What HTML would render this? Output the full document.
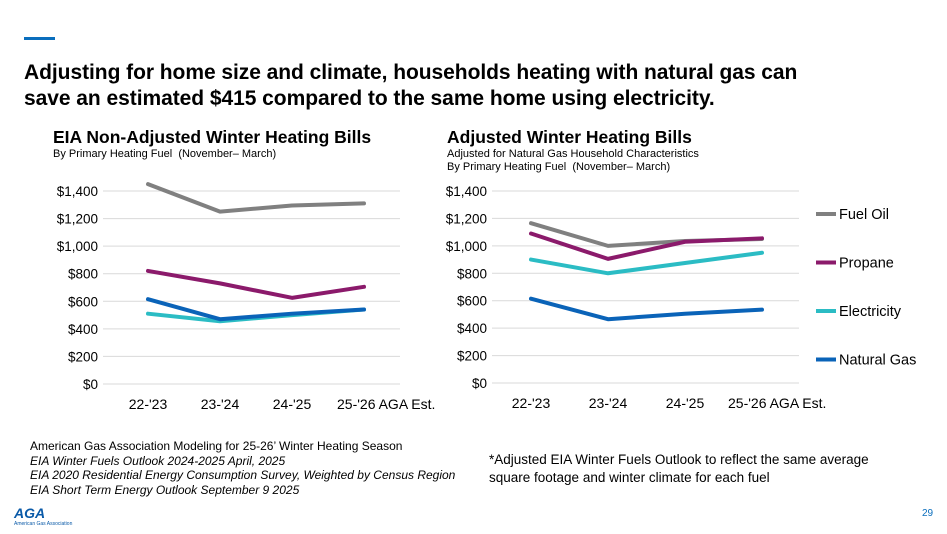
<!DOCTYPE html>
<html><head><meta charset="utf-8"><style>
body{margin:0;width:947px;height:534px;background:#fff;font-family:"Liberation Sans",Arial,sans-serif;position:relative;overflow:hidden}
.a{position:absolute;white-space:nowrap;color:#000}
</style></head><body>
<div class="a" style="left:24px;top:37px;width:31px;height:3px;background:#0a6ebd"></div>
<div class="a" style="left:24px;top:60px;font-size:21px;font-weight:bold;line-height:26px;letter-spacing:-0.05px">Adjusting for home size and climate, households heating with natural gas can<br>save an estimated $415 compared to the same home using electricity.</div>
<div class="a" style="left:53px;top:127px;font-size:17.5px;font-weight:bold">EIA Non-Adjusted Winter Heating Bills</div>
<div class="a" style="left:53px;top:148px;font-size:11px">By Primary Heating Fuel&nbsp; (November– March)</div>
<div class="a" style="left:447px;top:127px;font-size:17.5px;font-weight:bold">Adjusted Winter Heating Bills</div>
<div class="a" style="left:447px;top:148px;font-size:11px;line-height:13px">Adjusted for Natural Gas Household Characteristics<br>By Primary Heating Fuel&nbsp; (November– March)</div>
<svg id="c" width="947" height="534" style="position:absolute;left:0;top:0"></svg>
<div class="a" style="left:30px;top:439px;font-size:12px;line-height:14.5px">American Gas Association Modeling for 25-26’ Winter Heating Season<br><i>EIA Winter Fuels Outlook 2024-2025 April, 2025</i><br><i>EIA 2020 Residential Energy Consumption Survey, Weighted by Census Region</i><br><i>EIA Short Term Energy Outlook September 9 2025</i></div>
<div class="a" style="left:489px;top:451px;font-size:13.5px;line-height:18px">*Adjusted EIA Winter Fuels Outlook to reflect the same average<br>square footage and winter climate for each fuel</div>
<div class="a" style="left:14px;top:505px;font-size:14px;font-weight:bold;font-style:italic;color:#0a5aa8">AGA</div>
<div class="a" style="left:14px;top:521px;font-size:5px;color:#0a5aa8">American Gas Association</div>
<div class="a" style="left:922px;top:508px;font-size:10px;color:#0a6ebd">29</div>
<script>
const categories=["22-'23","23-'24","24-'25","25-'26 AGA Est."];
const seriesNames=["Fuel Oil","Propane","Electricity","Natural Gas"];
const colors=["#808080","#8b1a6b","#2bbcc4","#0a63b8"];
const ticks=[0,200,400,600,800,1000,1200,1400];
const tickLabels=["$0","$200","$400","$600","$800","$1,000","$1,200","$1,400"];
const leftFuelOil=[1450,1250,1295,1310];
const leftPropane=[820,730,625,705];
const leftElectricity=[510,455,500,540];
const leftNaturalGas=[615,470,510,540];
const rightFuelOil=[1165,1000,1035,1050];
const rightPropane=[1090,905,1030,1055];
const rightElectricity=[900,800,875,950];
const rightNaturalGas=[615,465,505,535];
const svg=document.getElementById('c');
const NS="http://www.w3.org/2000/svg";
function mk(t,a){const e=document.createElementNS(NS,t);for(const k in a)e.setAttribute(k,a[k]);svg.appendChild(e);return e;}
function chart(pfx,x0,x1,yTop,yBot,c0,step,lastOff,series){
  const y=v=>yBot-(v/1400)*(yBot-yTop);
  const x=i=>c0+i*step;
  ticks.forEach((t,i)=>{
    const g=mk('line',{x1:x0,x2:x1,y1:y(t),y2:y(t),stroke:'#d9d9d9','stroke-width':1});
    
    
    const l=mk('text',{x:x0-5,y:y(t)+5,'text-anchor':'end','font-size':13.5,'font-family':'Liberation Sans, sans-serif'});
    l.textContent=tickLabels[i];
    
    
  });
  categories.forEach((c,i)=>{
    const last=i===categories.length-1;
    const l=mk('text',{x:last?x(i)+lastOff:x(i),y:yBot+25,'text-anchor':last?'start':'middle','font-size':14,'font-family':'Liberation Sans, sans-serif'});
    l.textContent=c;
    
    
  });
  series.forEach((s,k)=>{
    const p=mk('polyline',{points:s.map((v,i)=>x(i)+','+y(v)).join(' '),fill:'none',stroke:colors[k],'stroke-width':4,'stroke-linejoin':'round','stroke-linecap':'round'});
    
    
  });
}
chart('left',103,400,191,384,148,72,-27,[leftFuelOil,leftPropane,leftElectricity,leftNaturalGas]);
chart('right',492,799,191,383,531,77,-34,[rightFuelOil,rightPropane,rightElectricity,rightNaturalGas]);
seriesNames.forEach((n,k)=>{
  const yy=214+k*48.5;
  const l=mk('line',{x1:816,x2:836,y1:yy,y2:yy,stroke:colors[k],'stroke-width':4});
  
  
  const t=mk('text',{x:839,y:yy+5,'font-size':14.5,'font-family':'Liberation Sans, sans-serif'});
  t.textContent=n;
  
  
});
</script>
</body></html>
